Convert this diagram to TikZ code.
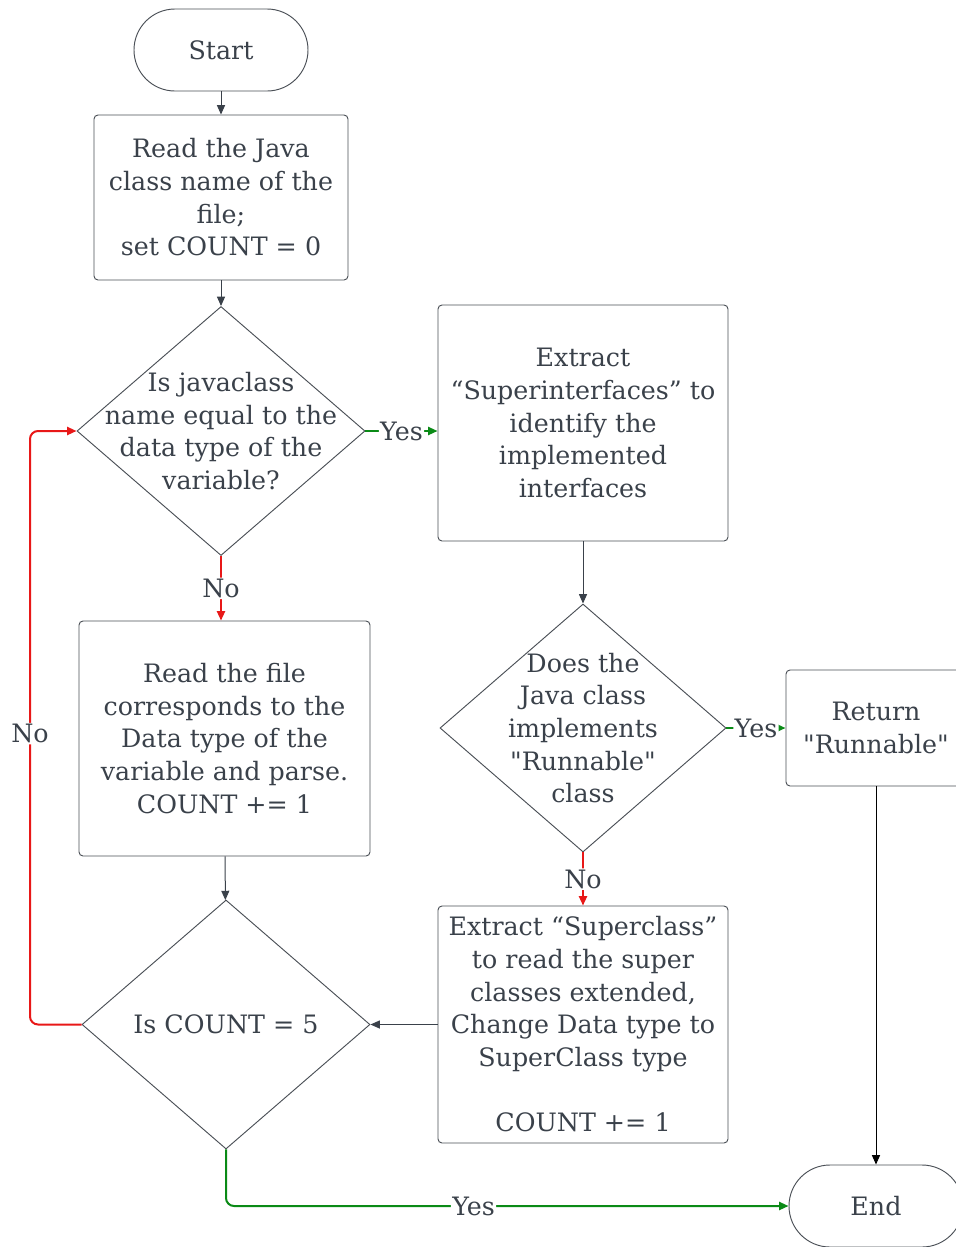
\documentclass[tikz,border=0pt]{standalone}
\usepackage{fontspec}
\setmainfont{DejaVu Serif}
\newfontfamily\qfont{DejaVu Serif}
\usepackage{xcolor}
\usetikzlibrary{arrows.meta,
	calc,
	positioning,
	shapes}
\definecolor{txtgray}{HTML}{3A414A}
\definecolor{edgegray}{HTML}{4A4F56}
\definecolor{yesgreen}{HTML}{0A8A16}
\definecolor{nored}{HTML}{E81818}
\newcommand{\dq}{{\qfont"}}
\tikzstyle{bx}=[draw=edgegray, line width=0.7pt, rectangle, rounded corners=3pt, inner sep=0,
		text=txtgray, align=center, font=\fontsize{19}{24.5}\selectfont]
\tikzstyle{term}=[bx, rounded corners=30.75pt, minimum width=130.5pt, minimum height=61.5pt]
\tikzstyle{dia}=[draw=edgegray, line width=0.7pt, diamond, inner sep=0]
\tikzstyle{txt}=[text=txtgray, align=center, inner sep=0, font=\fontsize{19}{24.5}\selectfont]
\tikzstyle{lbl}=[txt, fill=white, inner sep=1pt]
\tikzstyle{arr}=[draw=txtgray, line width=0.75pt, -{Triangle[length=7pt, width=6pt]}]
\tikzstyle{blk}=[draw=black, line width=0.75pt, -{Triangle[length=7pt, width=6pt]}]
\tikzstyle{yes}=[draw=yesgreen, line width=1.5pt, rounded corners=6pt, -{Triangle[length=7pt, width=6pt]}]
\tikzstyle{no}=[draw=nored, line width=1.5pt, rounded corners=6pt, -{Triangle[length=7pt, width=6pt]}]

\begin{document}
\begin{tikzpicture}[x=0.75pt, y=-0.75pt]
        \useasboundingbox (0,0) rectangle (956,1247);
        \node[term] (start) at (221,50) {Start};
        \node[bx, minimum width=190.5pt, minimum height=123.75pt] (read) at (221,197.5)
            {Read the Java\\class name of the\\file;\\set COUNT = 0};
        \node[dia, minimum width=216pt, minimum height=186.75pt] (isname) at (221,431) {};
        \node[txt] (isnametxt) at (221,431) {Is javaclass\\name equal to the\\data type of the\\variable?};
        \node[bx, minimum width=217.5pt, minimum height=177pt] (superif) at (583,423)
            {Extract\\“Superinterfaces” to\\identify the\\implemented\\interfaces};
        \node[dia, minimum width=214.5pt, minimum height=186pt] (isrun) at (583,728) {};
        \node[txt] (isruntxt) at (583,728) {Does the\\Java class\\implements\\\dq Runnable\dq\\class};
        \node[bx, minimum width=135pt, minimum height=87pt] (ret) at (876,728) {Return\\\dq Runnable\dq};
        \node[term] (end) at (876,1206) {End};
        \node[bx, minimum width=218.25pt, minimum height=176.25pt] (readfile) at (224.5,738.5)
            {Read the file\\corresponds to the\\Data type of the\\variable and parse.\\COUNT += 1};
        \node[dia, minimum width=216pt, minimum height=186.75pt] (iscount) at (226,1024.5) {};
        \node[txt] (iscounttxt) at (226,1024.5) {Is COUNT = 5};
        \node[bx, minimum width=217.5pt, minimum height=177.75pt] (supercl) at (583,1024.5)
            {Extract “Superclass”\\to read the super\\classes extended,\\Change Data type to\\SuperClass type\\\\COUNT += 1};
        \coordinate (back) at (30,731);

        \draw[arr] (start) -- (read);
        \draw[arr] (read) -- (isname);
        \draw[yes] (isname.east) -- node[lbl] (yes1) {Yes} (isname.east -| superif.west);
        \draw[arr] (superif) -- (isrun);
        \draw[yes] (isrun.east) -- node[lbl] (yes2) {Yes} (ret.west);
        \draw[blk] (ret) -- (end);
        \draw[no] (isname.south) -- node[lbl] (no1) {No} (isname.south |- readfile.north);
        \draw[arr] (readfile) -- (iscount);
        \draw[no] (isrun.south) -- node[lbl] (no2) {No} (supercl.north);
        \draw[arr] (supercl.west) -- (iscount.east);
        \draw[no] (iscount.west) -- (iscount.west -| back) -- node[lbl, pos=0.49] (no3) {No} (isname.west -| back) -- (isname.west);
        \draw[yes] (iscount.south) |- node[lbl, pos=0.72] (yes3) {Yes} (end.west);
    \end{tikzpicture}
\end{document}
